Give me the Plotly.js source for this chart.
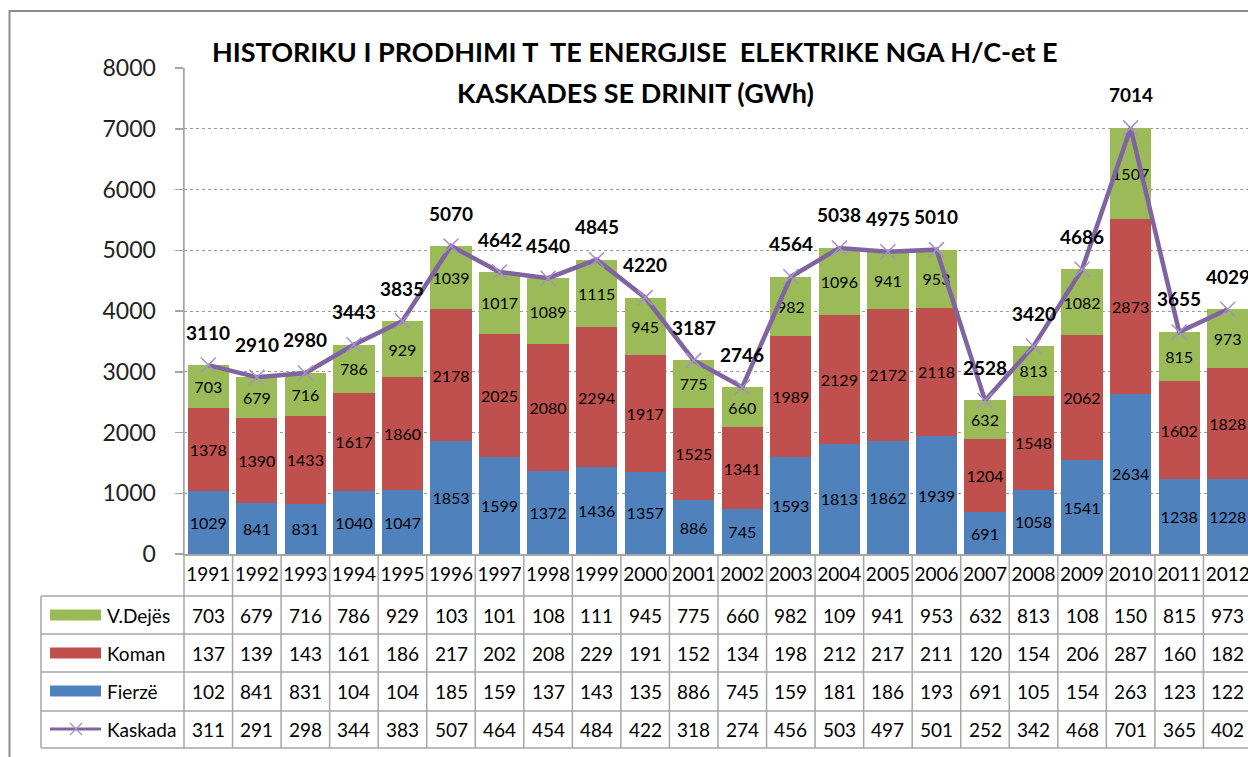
<!DOCTYPE html>
<html>
<head>
<meta charset="utf-8">
<script src="https://cdn.plot.ly/plotly-3.0.1.min.js"></script>
<style>
html,body{margin:0;padding:0;overflow:hidden;background:#fff;}
#chart{width:1252px;height:757px;}
</style>
</head>
<body>
<div id="chart"></div>
<script>
const years = ['1991','1992','1993','1994','1995','1996','1997','1998','1999','2000','2001','2002','2003','2004','2005','2006','2007','2008','2009','2010','2011','2012'];
const fierze = [1029,841,831,1040,1047,1853,1599,1372,1436,1357,886,745,1593,1813,1862,1939,691,1058,1541,2634,1238,1228];
const koman = [1378,1390,1433,1617,1860,2178,2025,2080,2294,1917,1525,1341,1989,2129,2172,2118,1204,1548,2062,2873,1602,1828];
const vdejes = [703,679,716,786,929,1039,1017,1089,1115,945,775,660,982,1096,941,953,632,813,1082,1507,815,973];
const kaskada = [3110,2910,2980,3443,3835,5070,4642,4540,4845,4220,3187,2746,4564,5038,4975,5010,2528,3420,4686,7014,3655,4029];
const seriesNames = ['V.Dejës','Koman','Fierzë','Kaskada'];
const titleLines = ['HISTORIKU I PRODHIMI T&nbsp;&nbsp;TE ENERGJISE&nbsp;&nbsp;ELEKTRIKE NGA H/C-et E','KASKADES SE DRINIT (GWh)'];

const C_BLUE='#4F81BD', C_RED='#C0504D', C_GREEN='#9BBB59', C_PURPLE='#8064A2', C_MARK='#A592C8';
const FONT='Lato, "Open Sans", sans-serif';
const GRID='#A6A6A6';

// layout geometry (pixels)
const W=1252, H=757, L=184, T=68, B=203;
const PW=W-L, PH=H-T-B;
const px2x = p => (p-L)/PW;
const px2y = p => (H-B-p)/PH;

const barText = {size:16, color:'#000', family:FONT};
const traces = [
  {type:'bar', name:'Fierzë', x:years, y:fierze, marker:{color:C_BLUE}, text:fierze.map(String),
   textposition:'inside', insidetextanchor:'middle', textangle:0, constraintext:'none', textfont:barText, hoverinfo:'x+y'},
  {type:'bar', name:'Koman', x:years, y:koman, marker:{color:C_RED}, text:koman.map(String),
   textposition:'inside', insidetextanchor:'middle', textangle:0, constraintext:'none', textfont:barText, hoverinfo:'x+y'},
  {type:'bar', name:'V.Dejës', x:years, y:vdejes, marker:{color:C_GREEN}, text:vdejes.map(String),
   textposition:'inside', insidetextanchor:'middle', textangle:0, constraintext:'none', textfont:barText, hoverinfo:'x+y'},
  {type:'scatter', mode:'lines+markers', name:'Kaskada', x:years, y:kaskada,
   line:{color:C_PURPLE, width:4.5}, marker:{symbol:'x-thin', size:15, color:C_MARK, line:{color:C_MARK, width:1.5}}, cliponaxis:false}
];

const annotations = [];
const shapes = [];

// title
annotations.push({xref:'paper', yref:'paper', x:px2x(635), y:px2y(52), text:'<b>'+titleLines[0]+'</b>', showarrow:false,
  font:{family:FONT, size:27, color:'#000'}, xanchor:'center', yanchor:'middle'});
annotations.push({xref:'paper', yref:'paper', x:px2x(635), y:px2y(92), text:'<b>'+titleLines[1]+'</b>', showarrow:false,
  font:{family:FONT, size:27, color:'#000'}, xanchor:'center', yanchor:'middle'});

// total labels (category axis: position by category index)
years.forEach((yr,i)=>{
  annotations.push({xref:'x', yref:'y', x:i, y:kaskada[i], yshift:33, text:'<b>'+kaskada[i]+'</b>', showarrow:false,
    font:{family:FONT, size:19, color:'#000'}, xanchor:'center', yanchor:'middle'});
});

// data table
const rowData = [vdejes, koman, fierze, kaskada];
const rowCenters = [615, 653, 691, 729];
const rowLines = [596, 634, 672, 711, 748];
rowData.forEach((arr,r)=>{
  arr.forEach((v,i)=>{
    annotations.push({xref:'x', yref:'paper', x:i, y:px2y(rowCenters[r]), text:String(v).slice(0,3), showarrow:false,
      font:{family:FONT, size:19, color:'#000'}, xanchor:'center', yanchor:'middle'});
  });
  annotations.push({xref:'paper', yref:'paper', x:px2x(105), y:px2y(rowCenters[r]), text:seriesNames[r], showarrow:false,
    font:{family:FONT, size:19, color:'#000'}, xanchor:'left', yanchor:'middle'});
});
const lineStyle = {color:GRID, width:1.5};
// horizontal table lines
rowLines.forEach(p=>{
  shapes.push({type:'line', xref:'paper', yref:'paper', x0:px2x(41), x1:1.01, y0:px2y(p), y1:px2y(p), line:lineStyle});
});
// vertical lines
shapes.push({type:'line', xref:'paper', yref:'paper', x0:px2x(41), x1:px2x(41), y0:px2y(596), y1:px2y(748), line:lineStyle});
shapes.push({type:'line', xref:'paper', yref:'paper', x0:0, x1:0, y0:1, y1:px2y(748), line:lineStyle});
for(let i=0;i<years.length;i++){
  shapes.push({type:'line', xref:'x', yref:'paper', x0:i+0.5, x1:i+0.5, y0:0, y1:px2y(748), line:lineStyle});
}
// legend keys
const keyColors=[C_GREEN, C_RED, C_BLUE];
keyColors.forEach((c,r)=>{
  shapes.push({type:'rect', xref:'paper', yref:'paper', x0:px2x(50), x1:px2x(101), y0:px2y(rowCenters[r]-5.5), y1:px2y(rowCenters[r]+5.5),
    fillcolor:c, line:{width:0}});
});
shapes.push({type:'line', xref:'paper', yref:'paper', x0:px2x(50), x1:px2x(101), y0:px2y(729), y1:px2y(729), line:{color:C_PURPLE, width:3}});
shapes.push({type:'line', xref:'paper', yref:'paper', x0:px2x(70), x1:px2x(82), y0:px2y(723), y1:px2y(735), line:{color:C_MARK, width:1.2}});
shapes.push({type:'line', xref:'paper', yref:'paper', x0:px2x(70), x1:px2x(82), y0:px2y(735), y1:px2y(723), line:{color:C_MARK, width:1.2}});
// outer border
shapes.push({type:'path', xref:'paper', yref:'paper', path:`M ${px2x(9.5)} ${px2y(770)} L ${px2x(9.5)} ${px2y(11)} L ${px2x(1260)} ${px2y(11)}`,
  line:{color:'#8C8C8C', width:2}});

const layout = {
  width:W, height:H,
  margin:{l:L, r:0, t:T, b:B, pad:0},
  paper_bgcolor:'#fff', plot_bgcolor:'#fff',
  barmode:'stack', bargap:0.15,
  showlegend:false,
  font:{family:FONT, color:'#000'},
  xaxis:{type:'category', range:[-0.5, 21.5], showgrid:false, showline:true, linecolor:GRID, linewidth:1.5,
    ticks:'', tickangle:0, tickfont:{family:FONT, size:19, color:'#000'}, ticklabelstandoff:3, fixedrange:true},
  yaxis:{range:[0,8000], dtick:1000, showgrid:true, gridcolor:'#9A9A9A', griddash:'dot', gridwidth:1,
    zeroline:false, showline:true, linecolor:GRID, linewidth:1.5, ticks:'outside', ticklen:8, tickcolor:GRID, tickwidth:1.5,
    tickfont:{family:FONT, size:23, color:'#222'}, ticklabelstandoff:14, fixedrange:true},
  annotations:annotations,
  shapes:shapes
};

Plotly.newPlot('chart', traces, layout, {displayModeBar:false, staticPlot:true});
</script>
</body>
</html>
